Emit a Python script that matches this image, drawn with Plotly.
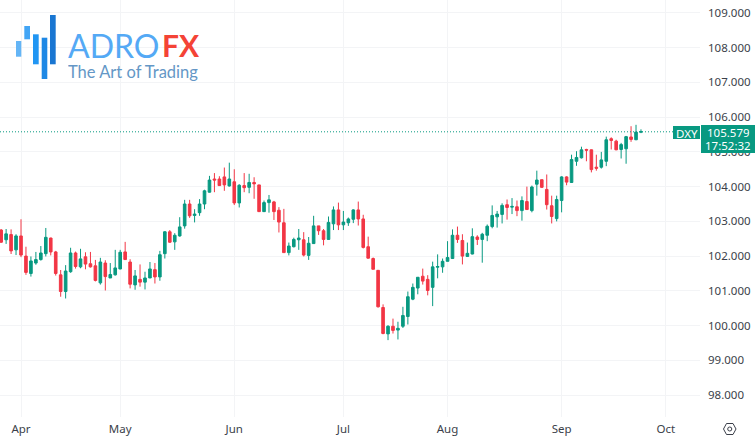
import plotly.graph_objects as go

bar_index = list(range(-4, 126))
opens = [102.75,102.47,102.62,102.18,102.58,102.00,101.50,101.80,101.90,102.07,
 102.52,102.12,101.46,100.98,101.55,102.09,101.69,101.98,101.78,101.72,
 101.23,101.80,101.37,101.46,101.63,102.12,101.83,101.17,101.33,101.25,
 101.37,101.61,101.40,102.07,102.70,102.41,102.58,102.87,103.50,103.17,
 103.25,103.50,103.84,104.22,104.22,104.28,104.02,104.14,103.53,104.03,
 103.98,104.12,104.05,103.28,103.54,103.56,103.32,102.96,102.10,102.27,
 102.47,102.47,102.02,102.36,102.87,102.73,102.48,102.93,103.33,102.90,
 102.96,103.06,103.33,103.07,102.27,101.93,101.59,100.52,99.76,99.98,
 99.87,99.98,100.26,100.76,101.08,101.42,101.33,101.10,101.68,101.69,
 101.85,101.93,102.60,102.45,101.99,102.06,102.55,102.48,102.60,102.85,
 103.13,103.20,103.48,103.41,103.42,103.31,103.57,103.31,104.07,104.20,
 103.92,103.45,103.08,103.60,104.28,104.12,104.73,104.83,105.07,105.06,
 104.56,104.56,104.73,105.38,105.31,105.07,105.09,105.43,105.35,105.57]
highs = [102.78,102.78,102.77,102.63,103.06,102.27,101.99,102.12,102.29,102.81,
 102.53,102.15,101.60,101.74,102.24,102.13,102.21,102.11,102.12,101.89,
 101.95,101.88,101.80,102.18,102.18,102.41,101.91,101.60,101.76,101.55,
 101.83,101.80,102.15,102.72,102.75,102.66,103.12,103.62,103.62,103.35,
 103.64,103.91,104.31,104.39,104.30,104.55,104.69,104.50,104.07,104.39,
 104.37,104.27,104.05,103.60,103.76,103.59,103.41,103.36,102.39,102.53,
 102.78,102.69,102.55,103.16,102.87,102.78,103.14,103.43,103.54,103.30,
 103.11,103.35,103.57,103.19,102.56,101.96,101.60,100.61,100.01,100.20,
 100.11,100.54,100.98,101.21,101.39,101.64,101.45,101.84,102.05,101.93,
 102.43,102.77,102.85,102.63,102.39,102.80,102.60,102.67,102.91,103.46,
 103.30,103.52,103.63,103.67,103.60,103.72,104.00,104.03,104.46,104.20,
 104.35,103.74,103.74,104.30,104.30,104.92,105.02,105.15,105.09,105.07,
 104.92,105.00,105.44,105.42,105.35,105.26,105.46,105.74,105.78,105.65]
lows = [102.38,102.35,102.06,102.03,101.97,101.46,101.41,101.75,101.87,101.99,
 102.02,101.44,100.83,100.78,101.52,101.64,101.65,101.62,101.67,101.27,
 101.18,101.01,101.37,101.44,101.62,101.89,101.07,101.03,101.12,101.04,
 101.37,101.21,101.29,101.93,102.38,102.18,102.56,102.79,103.10,102.97,
 103.16,103.35,103.83,103.84,104.02,103.88,104.00,103.47,103.40,103.84,
 103.81,103.65,103.27,103.27,103.25,103.04,102.68,102.10,102.02,102.25,
 102.18,101.99,101.89,102.35,102.61,102.31,102.47,102.75,102.75,102.75,
 102.87,102.95,102.88,102.22,101.93,101.62,100.52,99.75,99.58,99.77,
 99.60,99.93,100.03,100.73,100.90,101.18,100.87,100.56,101.36,101.52,
 101.85,101.93,102.38,101.76,101.99,102.05,102.32,101.81,102.43,102.80,
 102.82,102.94,103.05,103.21,103.15,103.02,103.33,103.26,103.74,103.96,
 103.34,102.94,103.00,103.26,104.04,104.11,104.60,104.81,104.73,104.41,
 104.46,104.52,104.59,105.07,105.05,104.81,104.66,105.29,105.34,105.54]
closes = [102.40,102.64,102.15,102.58,102.03,101.53,101.86,101.90,102.09,102.54,
 102.12,101.50,100.98,101.57,102.09,101.70,101.92,101.77,101.69,101.30,
 101.83,101.41,101.47,101.66,102.11,101.90,101.19,101.43,101.25,101.37,
 101.63,101.40,102.04,102.70,102.40,102.60,102.84,103.50,103.16,103.21,
 103.50,103.88,104.19,104.19,104.03,104.05,104.22,103.53,104.04,103.97,
 104.12,104.08,103.28,103.54,103.62,103.28,102.98,102.10,102.29,102.48,
 102.52,102.03,102.37,102.87,102.73,102.48,102.97,103.33,102.90,102.98,
 103.07,103.33,103.07,102.25,101.94,101.62,100.54,99.77,99.98,99.86,
 99.92,100.29,100.83,101.10,101.39,101.28,101.01,101.69,101.70,101.85,
 101.96,102.60,102.48,102.00,102.08,102.56,102.48,102.63,102.86,103.17,
 103.21,103.46,103.40,103.43,103.31,103.60,103.34,103.99,104.19,103.98,
 103.48,103.14,103.63,104.28,104.13,104.78,104.84,105.06,105.05,104.49,
 104.53,104.77,105.35,105.33,105.06,105.21,105.44,105.36,105.57,105.58]
month_ticks = [0, 20, 43, 65, 86, 109, 130]
month_labels = ["Apr", "May", "Jun", "Jul", "Aug", "Sep", "Oct"]
price_ticks = [98, 99, 100, 101, 102, 103, 104, 105, 106, 107, 108, 109]
last_price = 105.579
symbol = "DXY"
countdown = "17:52:32"

UP, DOWN = "#089981", "#F23645"
PW, PH = 700, 417
TEXT = "#3b3f4a"
FONT = "Noto Sans"

def px(x): return x / PW
def py(y): return 1 - y / PH

def rect(x0, y0, x1, y1, color):
    return dict(type="rect", xref="paper", yref="paper", x0=px(x0), x1=px(x1),
                y0=py(y0), y1=py(y1), fillcolor=color, line_width=0, layer="above")

def note(x, y, text, size, color, font=FONT, anchor="left", weight=None, height=None):
    f = dict(family=font, size=size, color=color)
    if weight: f["weight"] = weight
    a = dict(xref="paper", yref="paper", x=px(x), y=py(y), text=text, showarrow=False,
             xanchor=anchor, yanchor="middle", font=f, borderpad=0, borderwidth=0)
    if height: a["height"] = height
    return a

fig = go.Figure(go.Candlestick(
    x=bar_index, open=opens, high=highs, low=lows, close=closes,
    increasing=dict(line=dict(color=UP, width=1), fillcolor=UP),
    decreasing=dict(line=dict(color=DOWN, width=1), fillcolor=DOWN),
    whiskerwidth=0, showlegend=False, hoverinfo="skip",
))

shapes = [
    dict(type="line", xref="paper", yref="y", x0=0, x1=px(673), y0=last_price, y1=last_price,
         line=dict(color=UP, width=1, dash="1px,2px"), layer="above"),
    rect(673, 126, 700, 139, UP),
    rect(701, 125, 755, 153, UP),
    # logo bars
    rect(16, 41, 21.3, 56.7, "#64B5F6"),
    rect(24.3, 26, 30, 39.3, "#42A5F5"),
    rect(33, 34.3, 38.7, 64.3, "#2196F3"),
    rect(41.7, 37.7, 47.3, 79, "#1E88E5"),
    rect(50, 15, 55.7, 64.3, "#1976D2"),
    # settings icon
    dict(type="path", xref="paper", yref="paper", layer="above",
         path=f"M {px(723.5)} {py(429)} L {px(726.5)} {py(423.5)} L {px(733)} {py(423.5)} "
              f"L {px(736)} {py(429)} L {px(733)} {py(434.5)} L {px(726.5)} {py(434.5)} Z",
         line=dict(color="#3b3f4a", width=1), fillcolor="rgba(0,0,0,0)"),
    dict(type="circle", xref="paper", yref="paper", layer="above",
         x0=px(727.7), x1=px(731.8), y0=py(431), y1=py(427),
         line=dict(color="#3b3f4a", width=1), fillcolor="rgba(0,0,0,0)"),
]

annotations = [
    note(686.5, 132.5, symbol, 11.5, "#ffffff", anchor="center", height=12),
    note(728, 132, f"{last_price:.3f}", 11.5, "#ffffff", anchor="center", height=12),
    note(728, 145, countdown, 11.5, "#ffffff", anchor="center", height=12),
    note(68, 45, "ADRO", 32, "#54A9F5", font="Lato", height=26),
    note(162, 45, "FX", 30, "#F44336", font="Lato", weight=700, height=26),
    note(68, 71.5, "The Art of Trading", 16.5, "#6497C6", font="Lato", height=18),
]

fig.update_layout(
    width=755, height=445, autosize=False,
    margin=dict(l=0, r=55, t=0, b=28),
    paper_bgcolor="#ffffff", plot_bgcolor="#ffffff",
    font=dict(family=FONT, size=11.5, color=TEXT),
    shapes=shapes, annotations=annotations, showlegend=False, boxgap=0.25,
    xaxis=dict(range=[-4.234, 136.9], tickmode="array", tickvals=month_ticks, ticktext=month_labels,
               showgrid=True, gridcolor="#f3f4f6", gridwidth=1, zeroline=False, showline=False,
               ticks="", rangeslider=dict(visible=False), ticklabelstandoff=3),
    yaxis=dict(range=[97.367, 109.374], side="right", tickmode="array", tickvals=price_ticks,
               ticktext=[f"{p:.3f}" for p in price_ticks],
               showgrid=True, gridcolor="#f3f4f6", gridwidth=1, zeroline=False, showline=False,
               ticks="", ticklabelstandoff=7),
)

fig.write_html("out.html", post_script="document.body.style.margin='0';",
               config=dict(displayModeBar=False))
